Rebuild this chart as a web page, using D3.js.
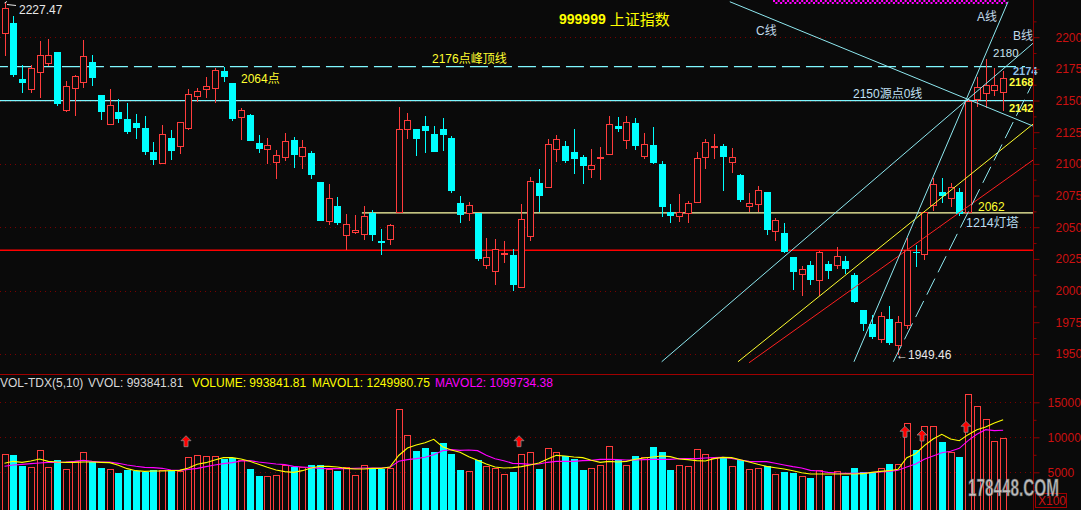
<!DOCTYPE html>
<html><head><meta charset="utf-8">
<script src="https://cdn.jsdelivr.net/npm/d3@7"></script>
<style>
html,body{margin:0;padding:0;background:#0a0a0a;overflow:hidden;}
svg{display:block;}
text{font-family:"Liberation Sans","Noto Sans CJK SC",Arial,sans-serif;}
</style></head><body>
<svg id="chart" width="1081" height="510"></svg>
<script>
// ---------------- DATA ----------------
const opens = [2203.4,2211.0,2166.9,2159.3,2172.2,2179.8,2188.2,2142.3,2159.6,2164.3,
2180.3,2154.3,2131.7,2140.9,2135.4,2132.3,2128.3,2109.4,2101.0,2120.5,
2113.9,2128.6,2153.3,2158.8,2159.6,2173.2,2163.8,2136.8,2138.6,2116.3,
2111.6,2101.8,2105.7,2118.9,2106.5,2108.7,2085.8,2054.6,2066.9,2043.9,
2046.2,2044.6,2061.2,2039.4,2040.4,2062.4,2127.8,2127.6,2129.9,2123.6,
2127.6,2120.5,2069.3,2061.2,2061.2,2019.9,2015.2,2028.7,2028.3,2002.6,
2042.8,2085.0,2081.7,2111.6,2114.2,2109.4,2105.5,2096.3,2104.9,2108.1,
2129.9,2118.7,2132.3,2106.5,2115.0,2100.0,2062.2,2058.8,2061.2,2069.8,
2105.3,2113.4,2114.4,2101.8,2091.1,2066.4,2068.7,2077.7,2047.0,2045.7,
2026.5,2013.1,2020.5,2008.1,2021.3,2020.2,2023.6,2012.6,1984.8,1973.5,
1962.0,1977.2,1956.9,1973.0,2030.3,2029.1,2067.7,2078.0,2073.2,2078.0,
2062.4,2151.4,2155.7,2158.3,2156.7];
const highs = [2227.47,2216.5,2178.0,2178.0,2196.9,2198.2,2188.2,2165.4,2169.8,2197.6,
2185.8,2154.3,2159.1,2151.2,2148.0,2139.1,2137.8,2117.3,2130.5,2126.8,
2132.8,2159.1,2159.6,2168.3,2175.6,2176.6,2163.8,2144.1,2139.4,2122.8,
2120.5,2110.8,2124.2,2121.3,2118.9,2110.2,2085.8,2084.3,2074.0,2060.6,
2059.8,2066.9,2063.8,2048.6,2052.8,2144.6,2140.2,2127.6,2137.8,2129.9,
2136.2,2122.0,2074.8,2070.1,2061.2,2041.7,2040.9,2039.4,2033.1,2068.5,
2089.8,2096.1,2119.7,2122.8,2118.1,2127.6,2107.1,2111.8,2113.4,2137.8,
2137.0,2137.8,2136.2,2124.4,2129.1,2102.4,2068.5,2076.4,2070.9,2109.4,
2119.7,2123.6,2115.5,2112.6,2092.1,2076.9,2082.7,2077.7,2057.2,2053.5,
2026.5,2019.1,2023.1,2031.5,2023.6,2034.6,2027.6,2013.6,1984.8,1981.1,
1982.9,1988.2,1980.3,2041.2,2036.2,2062.2,2089.0,2088.7,2085.0,2081.1,
2150.5,2168.3,2182.4,2175.4,2173.2];
const lows = [2185.3,2168.3,2156.1,2156.1,2152.2,2177.4,2145.7,2141.2,2138.0,2159.6,
2161.7,2134.9,2131.0,2132.5,2123.9,2119.9,2107.3,2099.4,2101.0,2103.4,
2108.1,2127.0,2148.6,2152.2,2148.3,2164.8,2134.1,2119.1,2118.3,2108.9,
2100.2,2088.4,2102.4,2097.1,2096.3,2088.4,2055.1,2052.0,2051.4,2032.0,
2044.6,2040.2,2038.8,2028.3,2035.6,2062.0,2119.7,2106.5,2108.9,2109.4,
2110.2,2077.4,2053.0,2054.6,2023.1,2017.3,2004.7,2021.5,1999.4,2001.8,
2039.4,2062.2,2081.0,2101.8,2100.8,2092.4,2084.3,2089.2,2087.6,2107.3,
2125.4,2112.0,2111.3,2104.2,2100.0,2057.7,2053.0,2053.8,2053.0,2069.8,
2096.3,2104.2,2078.2,2093.1,2070.3,2061.7,2061.7,2043.5,2039.4,2029.7,
2000.8,1995.5,2004.2,1995.5,2009.4,2017.1,2013.1,1990.0,1968.0,1961.4,
1958.8,1956.9,1949.46,1969.3,2018.7,2023.9,2063.0,2069.1,2066.1,2059.1,
2062.0,2145.1,2144.3,2153.8,2142.0];
const closes = [2223.4,2170.3,2164.0,2175.4,2185.6,2185.6,2147.2,2161.2,2169.1,2184.8,
2168.0,2141.2,2146.2,2135.4,2125.4,2128.6,2109.7,2103.1,2123.4,2110.5,
2132.8,2154.9,2157.2,2161.2,2174.0,2168.7,2135.7,2142.3,2118.3,2112.0,
2114.7,2106.9,2117.9,2107.1,2113.4,2091.6,2055.1,2073.0,2053.0,2052.5,
2047.8,2059.1,2043.5,2037.2,2051.7,2127.3,2134.4,2119.7,2126.0,2109.4,
2122.8,2078.2,2059.3,2067.7,2024.6,2026.5,2032.8,2029.5,2004.0,2056.5,
2086.6,2074.3,2115.5,2119.4,2102.4,2104.2,2098.7,2099.2,2105.1,2131.3,
2127.6,2133.1,2114.4,2115.7,2100.8,2065.6,2058.5,2062.0,2069.1,2104.7,
2117.1,2113.8,2105.7,2105.7,2071.1,2069.1,2079.3,2047.5,2055.7,2030.5,
2014.4,2017.1,2008.7,2030.7,2015.2,2027.3,2017.1,1990.8,1973.5,1963.5,
1980.1,1958.3,1975.4,2031.7,2029.9,2062.0,2084.5,2074.3,2082.1,2060.6,
2150.0,2160.4,2162.0,2162.0,2168.0];
const volumes = [7566,7471,5900,5804,8138,5709,6757,5423,6566,7852,
6471,5614,5423,4899,5376,5185,5090,5376,5376,5233,
5233,7137,7423,7280,7328,6947,7090,6709,5471,4471,
4423,4614,5995,5804,5804,6042,6042,5423,5233,5804,
4614,5995,5614,5518,5566,13995,10281,8042,8423,7947,
9185,7614,5328,5138,6757,5947,5614,4709,5042,7566,
7899,5471,8423,7852,7376,6852,5328,5661,5995,8709,
6804,5995,7328,7185,8614,7899,5328,5995,5852,8280,
7566,6995,7090,5852,6709,5471,5614,5900,4709,5042,
4899,4471,4233,5328,4518,5185,4518,5614,5042,5042,
5566,6185,6138,12043,8185,11566,11566,9328,7852,7185,
16138,14423,12566,9424,9938.4];
const mavol1 = [6281,6567,6424,6615,6900,6567,6472,6424,6424,6472,
6472,6424,6377,5996,5520,5234,5139,5186,5186,5234,
5281,5615,6139,6377,6758,7091,7091,6900,6567,6139,
5710,5329,5091,4996,5234,5615,5853,5853,5758,5567,
5472,5472,5567,5567,5758,7400,8472,8901,9234,9710,
8662,8186,7853,7234,6710,6186,5758,5615,5662,5805,
6043,6329,6901,7424,7329,7186,7091,6710,6424,6567,
6472,6567,6853,7043,7186,7329,7234,6900,6805,6662,
6615,6948,7138,7090,6804,6471,6138,5852,5661,5471,
5233,4947,4757,4757,4757,4757,4757,4757,4804,4995,
5138,5233,5424,7090,7662,8804,9757,10423,9757,9519,
10376,11090,11471,12043,12499.8];
const mavol2 = [5853,6043,6139,6234,6329,6424,6424,6472,6567,6710,
6567,6472,6472,6281,6043,5853,5710,5662,5567,5329,
5281,5424,5567,5805,6043,6234,6377,6615,6662,6472,
6329,6186,6091,5853,5758,5662,5567,5520,5520,5520,
5567,5615,5615,5615,5710,6567,6805,6948,7139,7520,
8091,8234,8139,8186,8091,7424,6948,6662,6281,6234,
6139,6186,6424,6567,6567,6567,6662,6710,6853,6853,
6805,6758,6758,6805,6853,6853,6853,6948,6948,6948,
7043,7091,7138,6995,6757,6567,6519,6519,6281,6043,
5805,5614,5281,5185,4995,4900,4852,4852,4900,4947,
5043,5138,5281,5757,6185,6852,7328,7805,7995,8424,
9519,10423,11090,10947,10997.3];
const priceTicks = [1950,1975,2000,2025,2050,2075,2100,2125,2150,2175,2200];
const priceMinorTicks = [1962.5,1987.5,2012.5,2037.5,2062.5,2087.5,2112.5,2137.5,2162.5,2187.5,2212.5];
const priceGrid = [1950,2000,2050,2100,2150,2200];
const volTicks = [5000,10000,15000];
const volMinorTicks = [2500,7500,12500];
const arrowIdx = [21,59,103,105,110];
const arrowVol = [8657,8657,10000,9471,10714];
// trend lines: [index, price] pairs
const lineC = [[82.8,2228.0],[117.4,2129.9]];
const lineA = [[96.97,1943.8],[114.56,2228.0]];
const lineB = [[75.02,1943.8],[117.41,2195.2]];
const lineDash = [[101.46,1943.8],[117.26,2162.2]];
const lineYellow = [[83.73,1943.8],[117.41,2131.4]];
const lineRed = [[84.99,1943.0],[117.41,2103.0]];
const level2150 = [[-0.52,2150],[117.41,2150]];
const level2176 = [[-0.52,2176.7],[116.5,2176.7]];
const level2062 = [[40.8,2061.4],[117.41,2061.4]];
const level2032 = [[-0.52,2031.8],[117.41,2031.8]];

// ---------------- SETUP ----------------
const W = 1081, H = 510, PR = 1033;
const RED = "#ff3c3c", CYAN = "#00ffff", BG = "#0a0a0a";
const AXRED = "#8c0000", LBLRED = "#cc1010", GRIDRED = "#7a0000";
const svg = d3.select("#chart");
svg.append("rect").attr("width", W).attr("height", H).attr("fill", BG);

const N = opens.length;
const x = d3.scaleLinear().domain([0, 114]).range([4.5, 1003.14]);
const yP = d3.scaleLinear().domain([1950, 2200]).range([353.9, 37.2]);
const yV = d3.scaleLinear().domain([0, 15000]).range([507.3, 402.3]);

const defs = svg.append("defs");
defs.append("clipPath").attr("id", "clipP").append("rect").attr("x", 0).attr("y", 0).attr("width", PR).attr("height", 373);
defs.append("clipPath").attr("id", "clipV").append("rect").attr("x", 0).attr("y", 392).attr("width", PR).attr("height", 118);

// grid lines
const gGrid = svg.append("g");
gGrid.selectAll("line.pg").data(priceGrid).join("line")
  .attr("x1", 0).attr("x2", PR).attr("y1", d => Math.round(yP(d)) + 0.5).attr("y2", d => Math.round(yP(d)) + 0.5)
  .attr("stroke", GRIDRED).attr("stroke-dasharray", "1,4");
gGrid.selectAll("line.vg").data(volTicks).join("line")
  .attr("x1", 0).attr("x2", PR).attr("y1", d => Math.round(yV(d)) + 0.5).attr("y2", d => Math.round(yV(d)) + 0.5)
  .attr("stroke", GRIDRED).attr("stroke-dasharray", "1,4");

// ---------------- PRICE PANEL ----------------
const gP = svg.append("g").attr("clip-path", "url(#clipP)");
const lineGen = d3.line().x(d => x(d[0])).y(d => yP(d[1]));

// horizontal levels
gP.append("path").attr("d", lineGen(level2032)).attr("stroke", "#ff0000").attr("stroke-width", 1.4).attr("fill", "none");
gP.append("path").attr("d", lineGen(level2062)).attr("stroke", "#ffffa8").attr("stroke-width", 1.3).attr("fill", "none");
gP.append("path").attr("d", lineGen(level2150)).attr("stroke", "#80f8ff").attr("stroke-width", 1.3).attr("fill", "none");
gP.append("path").attr("d", lineGen(level2176)).attr("stroke", "#80f8ff").attr("stroke-width", 1.3).attr("fill", "none")
  .attr("stroke-dasharray", "18,6").attr("stroke-dashoffset", 10);

// candles
const candles = opens.map((o, i) => ({ i, o, h: highs[i], l: lows[i], c: closes[i] }));
const gC = gP.append("g").attr("shape-rendering", "crispEdges");
candles.forEach(d => {
  const cx = Math.round(x(d.i));
  const up = d.c >= d.o;
  const top = yP(Math.max(d.o, d.c)), bot = yP(Math.min(d.o, d.c));
  if (up) {
    gC.append("line").attr("x1", cx + 0.5).attr("x2", cx + 0.5).attr("y1", yP(d.h)).attr("y2", top).attr("stroke", RED);
    gC.append("line").attr("x1", cx + 0.5).attr("x2", cx + 0.5).attr("y1", bot).attr("y2", yP(d.l)).attr("stroke", RED);
    gC.append("rect").attr("x", cx - 2.5).attr("y", Math.round(top) + 0.5).attr("width", 6)
      .attr("height", Math.max(0, Math.round(bot) - Math.round(top))).attr("fill", BG).attr("stroke", RED);
  } else {
    gC.append("line").attr("x1", cx + 0.5).attr("x2", cx + 0.5).attr("y1", yP(d.h)).attr("y2", yP(d.l)).attr("stroke", CYAN);
    gC.append("rect").attr("x", cx - 3).attr("y", top).attr("width", 7)
      .attr("height", Math.max(1.2, bot - top)).attr("fill", CYAN);
  }
});

// trend lines
const trend = (pts, color, w, dash) => {
  const p = gP.append("path").attr("d", lineGen(pts)).attr("stroke", color).attr("stroke-width", w).attr("fill", "none");
  if (dash) p.attr("stroke-dasharray", dash);
};
trend(lineYellow, "#ffff30", 1);
trend(lineRed, "#ff2020", 1);
trend(lineB, "#8ee8f0", 1);
trend(lineA, "#8ee8f0", 1);
trend(lineC, "#8ee8f0", 1);
trend(lineDash, "#8ee8f0", 1, "18,7");

// magenta marker band at top (two offset rows of dots)
gP.append("line").attr("x1", 773).attr("x2", 1007).attr("y1", 1).attr("y2", 1)
  .attr("stroke", "#ff00ff").attr("stroke-width", 2).attr("stroke-dasharray", "2,2.7");
gP.append("line").attr("x1", 773).attr("x2", 1007).attr("y1", 3).attr("y2", 3)
  .attr("stroke", "#ff00ff").attr("stroke-width", 2).attr("stroke-dasharray", "2,2.7").attr("stroke-dashoffset", 2.3);

// labels
const T = (tx, ty, s, color, size, extra) => {
  const t = svg.append("text").attr("x", tx).attr("y", ty).attr("fill", color)
    .attr("font-size", size).attr("dominant-baseline", "central").text(s);
  if (extra) extra(t);
  return t;
};
// title
const title = svg.append("text").attr("x", 559).attr("y", 19).attr("dominant-baseline", "central").attr("fill", "#ffff00");
title.append("tspan").attr("font-size", 14).attr("font-weight", "bold").text("999999");
title.append("tspan").attr("font-size", 15).attr("dx", 4).text("上证指数");

svg.append("path").attr("d", "M4.5,3 L7,1.5 M7,4.5 L16,5.5").attr("stroke", "#e8e8e8").attr("fill", "none");
T(19, 9.5, "2227.47", "#e8e8e8", 12);
T(432, 58.5, "2176点峰顶线", "#ffff30", 12);
T(241, 79, "2064点", "#ffff30", 12);
T(853, 93.5, "2150源点0线", "#c0e0f4", 12);
T(756, 31, "C线", "#c0d8e8", 12);
T(977, 17, "A线", "#c0d8e8", 12);
T(1013, 36, "B线", "#c0d8e8", 12);
T(993, 53, "2180", "#c8e4f0", 11.5);
T(1013, 71, "2174", "#90c0e8", 11, t => t.attr("font-weight", "bold"));
T(1009, 82, "2168", "#ffff40", 11, t => t.attr("font-weight", "bold"));
T(1009, 107.5, "2142", "#ffff40", 11, t => t.attr("font-weight", "bold"));
T(978, 207, "2062", "#ffff30", 12);
T(966, 223, "1214灯塔", "#b8dcf0", 12.5);
T(896, 354.5, "←1949.46", "#e8e8e8", 12);

// ---------------- VOLUME PANEL ----------------
svg.append("line").attr("x1", 0).attr("x2", PR).attr("y1", 374.5).attr("y2", 374.5).attr("stroke", "#a00000").attr("stroke-width", 1.2);

const gV = svg.append("g").attr("clip-path", "url(#clipV)");
const gVB = gV.append("g").attr("shape-rendering", "crispEdges");
volumes.forEach((v, i) => {
  const cx = Math.round(x(i));
  const up = closes[i] >= opens[i];
  const top = yV(v);
  if (up) {
    gVB.append("rect").attr("x", cx - 2.5).attr("y", Math.round(top) + 0.5).attr("width", 6)
      .attr("height", 520 - top).attr("fill", "none").attr("stroke", RED);
  } else {
    gVB.append("rect").attr("x", cx - 3).attr("y", top).attr("width", 7)
      .attr("height", 520 - top).attr("fill", CYAN);
  }
});
const vLine = d3.line().x((d, i) => x(i)).y(d => yV(d));
gV.append("path").attr("d", vLine(mavol2)).attr("stroke", "#ff00ff").attr("stroke-width", 1.1).attr("fill", "none");
gV.append("path").attr("d", vLine(mavol1)).attr("stroke", "#ffff00").attr("stroke-width", 1.1).attr("fill", "none");

// arrows
arrowIdx.forEach((idx, k) => {
  const ax = Math.round(x(idx)) - 2, ay = yV(arrowVol[k]);
  svg.append("path").attr("transform", `translate(${ax},${ay})`)
    .attr("d", "M0,-11 L5,-6 L2,-6 L2,0 L-2,0 L-2,-6 L-5,-6 Z")
    .attr("fill", "#ff0000").attr("stroke", "#8a8a8a").attr("stroke-width", 0.8);
});

// volume header
const hdr = svg.append("text").attr("x", 0).attr("y", 383).attr("dominant-baseline", "central").attr("font-size", 12);
hdr.append("tspan").attr("fill", "#d8d8d8").text("VOL-TDX(5,10)");
hdr.append("tspan").attr("x", 88).attr("fill", "#d8d8d8").text("VVOL: 993841.81");
hdr.append("tspan").attr("x", 192).attr("fill", "#ffff00").text("VOLUME: 993841.81");
hdr.append("tspan").attr("x", 312).attr("fill", "#ffff00").text("MAVOL1: 1249980.75");
hdr.append("tspan").attr("x", 435).attr("fill", "#ff00ff").text("MAVOL2: 1099734.38");

// ---------------- AXES ----------------
svg.append("line").attr("x1", PR + 0.5).attr("x2", PR + 0.5).attr("y1", 0).attr("y2", H).attr("stroke", AXRED);

const axP = svg.append("g").attr("transform", `translate(${PR + 0.5},0)`)
  .call(d3.axisRight(yP).tickValues(priceTicks).tickSize(6).tickSizeOuter(0).tickFormat(d3.format("d")));
axP.append("g").call(d3.axisRight(yP).tickValues(priceMinorTicks).tickSize(3).tickSizeOuter(0).tickFormat(""));
const axV = svg.append("g").attr("transform", `translate(${PR + 0.5},0)`)
  .call(d3.axisRight(yV).tickValues(volTicks).tickSize(6).tickSizeOuter(0).tickFormat(d3.format("d")));
axV.append("g").call(d3.axisRight(yV).tickValues(volMinorTicks).tickSize(3).tickSizeOuter(0).tickFormat(""));
[axP, axV].forEach(a => {
  a.selectAll(".domain").remove();
  a.selectAll("line").attr("stroke", AXRED);
  a.selectAll("text").attr("fill", LBLRED).attr("font-size", 12)
    .attr("font-family", "'Liberation Sans',Arial,sans-serif");
});
axP.selectAll(".tick text").attr("x", 22);
axV.selectAll(".tick text").attr("x", 14);

// watermark + X100
svg.append("rect").attr("x", 1035.5).attr("y", 493.5).attr("width", 31).attr("height", 14)
  .attr("fill", BG).attr("stroke", "#a00000");
T(1038, 500.5, "X100", LBLRED, 12);
svg.append("text").attr("x", 968).attr("y", 496).attr("font-size", 24).attr("font-weight", "bold")
  .attr("textLength", 91).attr("lengthAdjust", "spacingAndGlyphs")
  .attr("fill", "#d4d4d4").attr("stroke", "#5a5a5a").attr("stroke-width", 0.6).attr("opacity", 0.88)
  .text("178448.COM");
</script>
</body></html>
